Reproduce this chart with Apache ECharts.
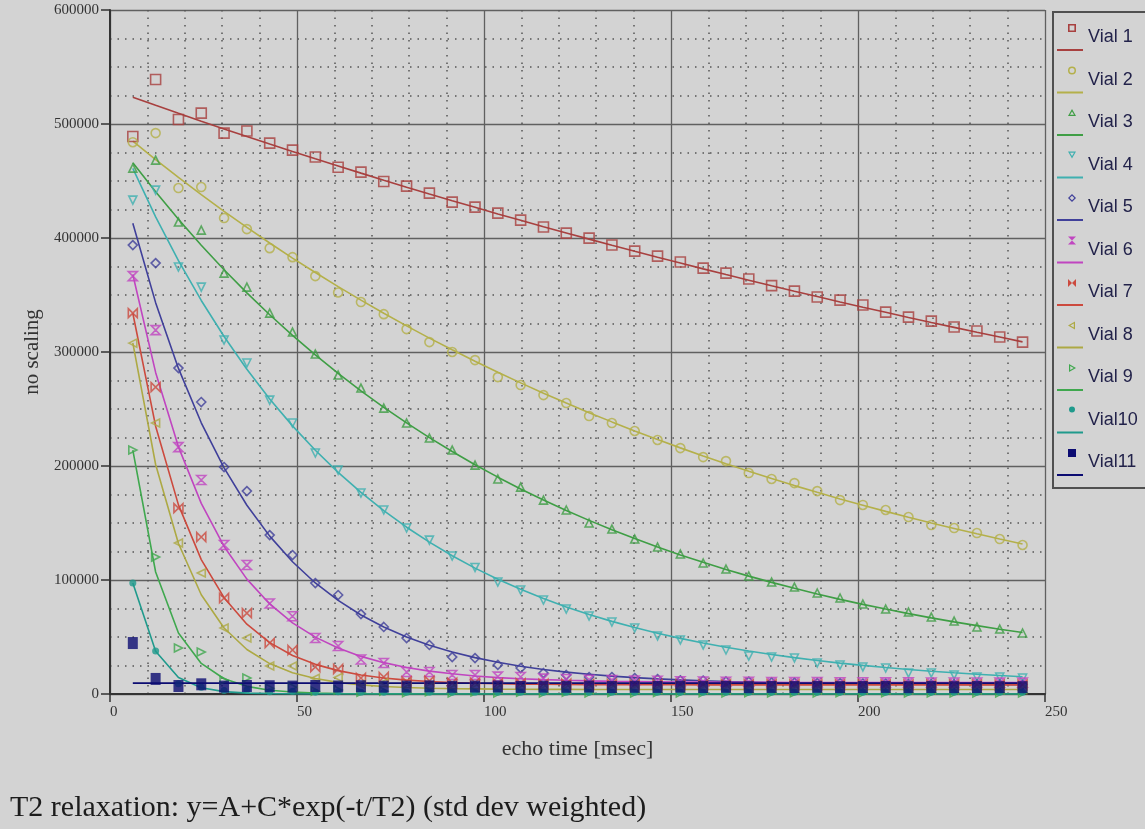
<!DOCTYPE html>
<html><head><meta charset="utf-8">
<script src="https://cdn.jsdelivr.net/npm/echarts@6/dist/echarts.min.js"></script>
<style>html,body{margin:0;padding:0;background:#d3d3d3;}#c{width:1145px;height:829px;}</style>
</head><body><div id="c"></div>
<script>
const echoTimes = [6.1, 12.2, 18.3, 24.4, 30.5, 36.6, 42.7, 48.8, 54.9, 61.0, 67.1, 73.2, 79.3, 85.4, 91.5, 97.6, 103.7, 109.8, 115.9, 122.0, 128.1, 134.2, 140.3, 146.4, 152.5, 158.6, 164.7, 170.8, 176.9, 183.0, 189.1, 195.2, 201.3, 207.4, 213.5, 219.6, 225.7, 231.8, 237.9, 244.0];
const vialNames = ['Vial 1', 'Vial 2', 'Vial 3', 'Vial 4', 'Vial 5', 'Vial 6', 'Vial 7', 'Vial 8', 'Vial 9', 'Vial10', 'Vial11'];
const xTickLabels = ['0', '50', '100', '150', '200', '250'];
const yTickLabels = ['0', '100000', '200000', '300000', '400000', '500000', '600000'];

const vial1 = [489000, 539000, 504000, 509500, 492000, 493800, 483200, 477100, 471000, 462000, 457800, 449500, 445500, 439400, 431500, 427100, 421800, 415700, 409600, 404300, 399900, 393800, 388500, 384100, 378900, 373600, 369200, 364000, 358200, 353400, 348200, 345500, 341200, 335000, 330600, 327100, 321900, 318400, 313100, 308700];
const vial1Fit = [523500, 516400, 509400, 502500, 495700, 489000, 482400, 475900, 469500, 463200, 456900, 450700, 444600, 438600, 432700, 426900, 421100, 415500, 409900, 404400, 399000, 393600, 388300, 383100, 378000, 372900, 367900, 363000, 358100, 353300, 348600, 343900, 339300, 334800, 330300, 325900, 321600, 317300, 313100, 308900];
const vial2 = [484000, 492000, 443800, 444700, 417500, 407800, 391100, 383200, 366600, 352200, 343800, 333200, 320100, 308700, 300000, 292900, 278000, 271000, 262200, 255200, 243800, 237700, 230700, 222800, 215700, 207800, 204300, 193800, 188600, 185000, 178000, 170100, 165800, 161400, 155200, 148200, 145600, 141200, 135900, 130700];
const vial2Fit = [485000, 468800, 453100, 438000, 423400, 409300, 395600, 382400, 369700, 357400, 345500, 334000, 322900, 312200, 301900, 291900, 282200, 272900, 263900, 255200, 246800, 238700, 230800, 223200, 215900, 208800, 202000, 195400, 189000, 182800, 176900, 171100, 165600, 160200, 155000, 150000, 145200, 140500, 136000, 131600];
const vial3 = [461300, 468300, 414000, 406900, 369200, 356900, 334100, 317500, 298200, 279800, 268400, 250800, 237700, 224500, 214000, 200800, 188600, 181500, 170100, 161400, 150000, 144700, 135900, 128900, 122800, 114900, 109600, 103500, 98200, 93800, 88600, 84200, 78900, 74500, 71900, 67500, 64000, 58800, 57000, 53500];
const vial3Fit = [466000, 440500, 416500, 393700, 372200, 351900, 332700, 314600, 297400, 281200, 265900, 251500, 237800, 224900, 212700, 201100, 190200, 179900, 170200, 161000, 152300, 144100, 136300, 129000, 122000, 115500, 109300, 103400, 97900, 92700, 87700, 83000, 78600, 74500, 70500, 66800, 63300, 60000, 56800, 53900];
const vial4 = [433200, 442000, 374500, 356900, 310500, 290300, 257800, 237700, 211400, 196400, 176300, 161400, 145600, 135000, 121000, 111000, 98200, 91200, 82400, 74500, 68400, 63100, 57900, 50900, 47400, 43000, 38600, 33300, 32400, 31600, 27200, 25400, 23700, 22800, 18400, 18400, 16700, 14900, 14900, 14000];
const vial4Fit = [461000, 418600, 380100, 345200, 313600, 284900, 258800, 235200, 213800, 194400, 176800, 160800, 146300, 133200, 121300, 110400, 100600, 91800, 83700, 76400, 69700, 63700, 58300, 53300, 48800, 44700, 41000, 37700, 34600, 31900, 29400, 27100, 25100, 23200, 21500, 20000, 18600, 17300, 16200, 15100];
const vial5 = [393800, 378000, 285900, 256100, 199100, 178000, 139400, 121900, 97300, 86800, 70100, 58800, 49100, 43000, 32400, 31500, 25500, 22800, 18400, 16700, 14900, 14900, 14000, 13000, 12000, 11800, 11000, 10800, 10200, 10000, 9600, 9500, 9200, 9100, 8800, 8800, 8600, 8500, 8400, 8300];
const vial5Fit = [413000, 343300, 285600, 237900, 198300, 165600, 138500, 116000, 97400, 82100, 69300, 58800, 50000, 42800, 36800, 31900, 27800, 24400, 21500, 19200, 17300, 15700, 14400, 13300, 12400, 11600, 11000, 10500, 10000, 9700, 9400, 9200, 9000, 8800, 8700, 8500, 8400, 8400, 8300, 8200];
const vial6 = [366600, 319200, 216600, 187700, 130700, 113100, 79400, 68200, 49100, 42100, 30300, 27200, 19300, 19300, 16700, 16700, 15200, 14900, 13500, 13200, 12500, 12300, 11800, 11600, 11200, 11000, 10800, 10700, 10500, 10500, 10400, 10300, 10300, 10200, 10200, 10100, 10100, 10100, 10000, 10000];
const vial6Fit = [368000, 282100, 216800, 167200, 129400, 100800, 79000, 62400, 49900, 40300, 33000, 27500, 23300, 20100, 17700, 15800, 14400, 13400, 12600, 12000, 11500, 11100, 10900, 10700, 10500, 10400, 10300, 10200, 10200, 10100, 10100, 10100, 10000, 10000, 10000, 10000, 10000, 10000, 10000, 10000];
const vial7 = [334100, 269200, 163100, 137700, 84200, 71000, 44700, 38600, 23700, 21900, 14000, 14900, 11000, 11500, 9800, 9900, 9200, 9300, 8900, 9000, 8700, 8800, 8600, 8600, 8500, 8500, 8400, 8400, 8400, 8300, 8300, 8300, 8300, 8200, 8200, 8200, 8200, 8200, 8100, 8100];
const vial7Fit = [334000, 234900, 165900, 117900, 84500, 61200, 45100, 33800, 26000, 20500, 16700, 14100, 12200, 10900, 10000, 9400, 9000, 8700, 8500, 8300, 8200, 8200, 8100, 8100, 8100, 8000, 8000, 8000, 8000, 8000, 8000, 8000, 8000, 8000, 8000, 8000, 8000, 8000, 8000, 8000];
const vial8 = [307800, 237700, 132400, 106100, 57900, 49100, 24600, 24600, 13800, 14500, 8300, 9800, 5500, 6500, 4800, 5200, 4400, 4600, 4300, 4400, 4200, 4300, 4100, 4200, 4100, 4100, 4000, 4100, 4000, 4000, 4000, 4000, 4000, 4000, 4000, 4000, 4000, 4000, 4000, 4000];
const vial8Fit = [308000, 201300, 132000, 87100, 57900, 39000, 26700, 18700, 13600, 10200, 8000, 6600, 5700, 5100, 4700, 4500, 4300, 4200, 4100, 4100, 4000, 4000, 4000, 4000, 4000, 4000, 4000, 4000, 4000, 4000, 4000, 4000, 4000, 4000, 4000, 4000, 4000, 4000, 4000, 4000];
const vial9 = [214000, 120100, 40300, 36800, 12000, 14000, 5000, 6000, 2500, 3500, 1500, 2500, 1200, 2000, 1000, 1800, 1000, 1500, 1000, 1500, 1000, 1400, 1000, 1300, 1000, 1200, 1000, 1200, 1000, 1100, 1000, 1100, 1000, 1100, 1000, 1000, 1000, 1000, 1000, 1000];
const vial9Fit = [214000, 107000, 53500, 26800, 13400, 6700, 3300, 1700, 800, 400, 200, 100, 100, 0, 0, 0, 0, 0, 0, 0, 0, 0, 0, 0, 0, 0, 0, 0, 0, 0, 0, 0, 0, 0, 0, 0, 0, 0, 0, 0];
const vial10 = [97300, 37700, 9000, 6000, 3000, 3500, 2000, 2500, 1500, 2000, 1500, 1500, 1500, 1500, 1500, 1500, 1500, 1500, 1500, 1500, 1500, 1500, 1500, 1500, 1500, 1500, 1500, 1500, 1500, 1500, 1500, 1500, 1500, 1500, 1500, 1500, 1500, 1500, 1500, 1500];
const vial10Fit = [97300, 37500, 14400, 5500, 2100, 800, 300, 100, 0, 0, 0, 0, 0, 0, 0, 0, 0, 0, 0, 0, 0, 0, 0, 0, 0, 0, 0, 0, 0, 0, 0, 0, 0, 0, 0, 0, 0, 0, 0, 0];
const vial11 = [44700, 13200, 7000, 8500, 6500, 7000, 6800, 6500, 7000, 6600, 6800, 6400, 6500, 6700, 6300, 6500, 6600, 6200, 6400, 6300, 6500, 6100, 6300, 6200, 6400, 6100, 6300, 6000, 6200, 6100, 6300, 6000, 6100, 6200, 6000, 6100, 6000, 6100, 6000, 6000];
const vial11Fit = [9500, 9500, 9500, 9500, 9500, 9500, 9500, 9500, 9500, 9500, 9500, 9500, 9500, 9500, 9500, 9500, 9500, 9500, 9500, 9500, 9500, 9500, 9500, 9500, 9500, 9500, 9500, 9500, 9500, 9500, 9500, 9500, 9500, 9500, 9500, 9500, 9500, 9500, 9500, 9500];

const measured = [vial1, vial2, vial3, vial4, vial5, vial6, vial7, vial8, vial9, vial10, vial11];
const fitted = [vial1Fit, vial2Fit, vial3Fit, vial4Fit, vial5Fit, vial6Fit, vial7Fit, vial8Fit, vial9Fit, vial10Fit, vial11Fit];

const colors = ['#a8403f', '#b4b04a', '#3f9e45', '#3fb0b0', '#40409a', '#c045c0', '#cc4a3e', '#ada944', '#3fa84e', '#1f9a8c', '#0c0c72'];
const HOUR = 'path://M0 0L10 0L5 5L10 10L0 10L5 5Z';
const BOW = 'path://M0 0L5 5L10 0L10 10L5 5L0 10Z';
const markerStyles = [
  {symbol: 'rect', size: 10, rotate: 0, hollow: true},
  {symbol: 'circle', size: 9, rotate: 0, hollow: true},
  {symbol: 'triangle', size: 8, rotate: 0, hollow: true},
  {symbol: 'triangle', size: 8, rotate: 180, hollow: true},
  {symbol: 'diamond', size: 9, rotate: 0, hollow: true},
  {symbol: HOUR, size: 9, rotate: 0, hollow: true},
  {symbol: BOW, size: 9, rotate: 0, hollow: true},
  {symbol: 'triangle', size: 8, rotate: 90, hollow: true},
  {symbol: 'triangle', size: 8, rotate: -90, hollow: true},
  {symbol: 'circle', size: 7, rotate: 0, hollow: false},
  {symbol: 'rect', size: [10, 12], rotate: 0, hollow: false}
];
const LINE = 'M0 25L26 25L26 27L0 27Z';
const legendIcons = [
  'path://M11 0L19 0L19 8L11 8ZM12.6 1.6L12.6 6.4L17.4 6.4L17.4 1.6Z' + LINE,
  'path://M11 4A4 4 0 1 1 19 4A4 4 0 1 1 11 4ZM12.5 4A2.5 2.5 0 1 0 17.5 4A2.5 2.5 0 1 0 12.5 4Z' + LINE,
  'path://M15 0L19 7L11 7ZM15 2.4L13 5.8L17 5.8Z' + LINE,
  'path://M11 0L19 0L15 7ZM13 1.2L15 4.6L17 1.2Z' + LINE,
  'path://M15 0L19 4L15 8L11 4ZM15 1.7L12.7 4L15 6.3L17.3 4Z' + LINE,
  'path://M11 0L19 0L15 4L19 8L11 8L15 4Z' + LINE,
  'path://M11 0L15 4L19 0L19 8L15 4L11 8Z' + LINE,
  'path://M11 4L18 0L18 8ZM13.3 4L16.8 6L16.8 2Z' + LINE,
  'path://M12 0L19 4L12 8ZM13.2 2L13.2 6L16.7 4Z' + LINE,
  'path://M12 3A3 3 0 1 1 18 3A3 3 0 1 1 12 3Z' + LINE,
  'path://M11 0L19 0L19 8L11 8Z' + LINE
];

const series = [];
fitted.forEach((arr, i) => {
  series.push({
    name: vialNames[i], type: 'line', showSymbol: false, symbol: 'none',
    smooth: false, z: 2,
    lineStyle: {color: colors[i], width: 1.6},
    itemStyle: {color: colors[i]},
    emphasis: {disabled: true}, silent: true,
    data: echoTimes.map((t, k) => [t, arr[k]])
  });
});
measured.forEach((arr, i) => {
  const m = markerStyles[i];
  series.push({
    name: vialNames[i], type: 'scatter', symbol: m.symbol, symbolSize: m.size, symbolRotate: m.rotate,
    z: i === 10 ? 5 : 3,
    itemStyle: m.hollow ? {color: 'rgba(0,0,0,0)', borderColor: colors[i], borderWidth: 1.6}
                        : {color: colors[i], borderWidth: 0},
    emphasis: {disabled: true}, silent: true,
    data: echoTimes.map((t, k) => [t, arr[k]])
  });
});

const chart = echarts.init(document.getElementById('c'), null, {renderer: 'canvas'});
chart.setOption({
  backgroundColor: '#d3d3d3',
  animation: false,
  title: {
    text: 'T2 relaxation: y=A+C*exp(-t/T2) (std dev weighted)',
    left: 10, top: 793, padding: 0,
    textStyle: {fontFamily: 'Liberation Serif', fontSize: 30, fontWeight: 'normal', color: '#1c1c1c'}
  },
  grid: {left: 110, right: 100, top: 10, bottom: 135, containLabel: false, outerBoundsMode: 'none'},
  legend: {
    orient: 'vertical', left: 1053, top: 12,
    padding: [12, 40, 12, 4],
    itemWidth: 26, itemHeight: 27, itemGap: 15.5,
    borderColor: '#505050', borderWidth: 2, borderRadius: 0,
    backgroundColor: 'rgba(0,0,0,0)',
    selectedMode: false,
    textStyle: {fontFamily: 'Liberation Sans', fontSize: 18, color: '#22224a', padding: [0, 0, 6, 0]},
    data: vialNames.map((n, i) => ({name: n, icon: legendIcons[i], itemStyle: {color: colors[i], borderWidth: 0, opacity: 1}}))
  },
  xAxis: {
    type: 'value', min: 0, max: 250, interval: 50,
    name: 'echo time [msec]', nameLocation: 'middle', nameGap: 44,
    nameTextStyle: {fontFamily: 'Liberation Serif', fontSize: 22, color: '#333'},
    axisLine: {show: true, onZero: false, lineStyle: {color: '#333', width: 2}},
    axisTick: {show: true, inside: false, length: 8, lineStyle: {color: '#333', width: 1.5}},
    minorTick: {show: false, splitNumber: 5},
    axisLabel: {margin: 11, align: 'left', fontFamily: 'Liberation Serif', fontSize: 15, color: '#333',
      formatter: v => xTickLabels[Math.round(v / 50)]},
    splitLine: {show: true, lineStyle: {color: '#606060', width: 1.3, type: 'solid'}},
    minorSplitLine: {show: true, lineStyle: {color: '#555', width: 1.5, type: [1.5, 6]}}
  },
  yAxis: {
    type: 'value', min: 0, max: 600000, interval: 100000,
    name: 'no scaling', nameLocation: 'middle', nameGap: 64,
    nameTextStyle: {fontFamily: 'Liberation Serif', fontSize: 21, color: '#333'},
    axisLine: {show: true, lineStyle: {color: '#333', width: 2}},
    axisTick: {show: true, inside: false, length: 9, lineStyle: {color: '#333', width: 1.5}},
    minorTick: {show: false, splitNumber: 4},
    axisLabel: {margin: 11, fontFamily: 'Liberation Serif', fontSize: 15, color: '#333',
      formatter: v => yTickLabels[Math.round(v / 100000)]},
    splitLine: {show: true, lineStyle: {color: '#606060', width: 1.3, type: 'solid'}},
    minorSplitLine: {show: true, lineStyle: {color: '#555', width: 1.5, type: [1.5, 6]}}
  },
  series: series
});
</script></body></html>
